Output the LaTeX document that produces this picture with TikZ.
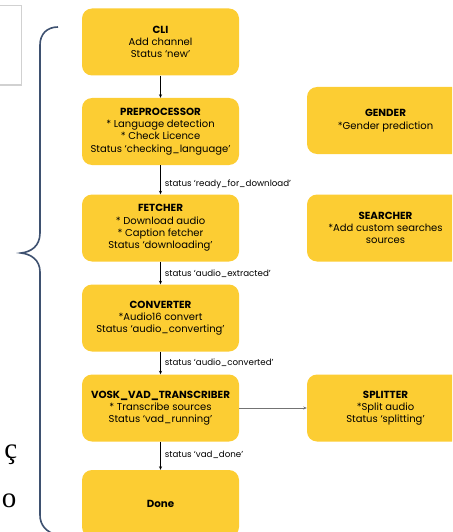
\documentclass[tikz,border=0pt]{standalone}
\usepackage{fontspec}
\setmainfont{Poppins}
\newfontfamily\serifface{Liberation Serif}
\usetikzlibrary{arrows.meta}
\definecolor{boxyellow}{HTML}{FCCD33}
\definecolor{bracecol}{HTML}{3E5170}
\tikzset{
  stage/.style={fill=boxyellow, rounded corners=10pt, minimum width=157pt, minimum height=67pt,
    align=center, font=\fontsize{10}{12.3}\selectfont, inner sep=2pt},
  flow/.style={-{Stealth[length=3.5pt,width=3pt]}, line width=0.6pt, black},
  sidearrow/.style={-{Stealth[length=3.5pt,width=3pt]}, line width=0.6pt, black!55},
  flowlabel/.style={right=3pt, font=\fontsize{8.7}{9}\selectfont, inner sep=1pt},
  cut/.style={font=\serifface\fontsize{29}{29}\selectfont, inner sep=0pt}
}
\newcommand{\ttl}[1]{{\bfseries\fontsize{10.3}{12.3}\selectfont #1}}
\begin{document}
\begin{tikzpicture}[x=1pt,y=-1pt]
\useasboundingbox (0,0) rectangle (452,532);
\clip (0,0) rectangle (452,532);
\draw[black!18, line width=1.5pt] (-10,5.5) rectangle (21.5,85);
\draw[bracecol, line width=1.6pt] (58,27) .. controls (47,27) and (40,34) .. (40,45)
  -- (40,233) .. controls (40,246) and (31,252) .. (21,253)
  .. controls (31,254) and (40,260) .. (40,272)
  -- (40,515) .. controls (40,525) and (46,532) .. (57,535);
\node[cut, anchor=base east] (cc) at (17.5,458) {ç};
\node[cut, anchor=base east] (oo) at (16.5,507) {o};

\node[stage] (cli) at (160.5,42) {\ttl{CLI}\\Add channel\\Status ‘new’};
\node[stage] (pre) at (160.5,131.5) {\ttl{PREPROCESSOR}\\* Language detection\\* Check Licence\\Status ‘checking\_language’};
\node[stage] (fet) at (160.5,228) {\ttl{FETCHER}\\* Download audio\\* Caption fetcher\\Status ‘downloading’};
\node[stage] (con) at (160.5,318) {\ttl{CONVERTER}\\*Audio16 convert\\Status ‘audio\_converting’};
\node[stage] (vosk) at (160.5,408) {\ttl{VOSK\_VAD\_TRANSCRIBER}\\* Transcribe sources\\Status ‘vad\_running’};
\node[stage] (done) at (160.5,503.5) {\ttl{Done}};
\node[stage] (gen) at (385.5,120.5) {\ttl{GENDER}\\*Gender prediction};
\node[stage] (sea) at (385.5,228) {\ttl{SEARCHER}\\*Add custom searches\\sources};
\node[stage] (spl) at (385.5,408) {\ttl{SPLITTER}\\*Split audio\\Status ‘splitting’};

\draw[flow] (cli) -- (pre);
\draw[flow] (pre) -- node[flowlabel, pos=0.65] (l1) {status ‘ready\_for\_download’} (fet);
\draw[flow] (fet) -- node[flowlabel, pos=0.55] (l2) {status ‘audio\_extracted’} (con);
\draw[flow] (con) -- node[flowlabel, pos=0.48] (l3) {status ‘audio\_converted’} (vosk);
\draw[flow] (vosk) -- node[flowlabel, pos=0.45] (l4) {status ‘vad\_done’} (done);
\draw[sidearrow] (vosk) -- (spl);
\end{tikzpicture}
\end{document}
